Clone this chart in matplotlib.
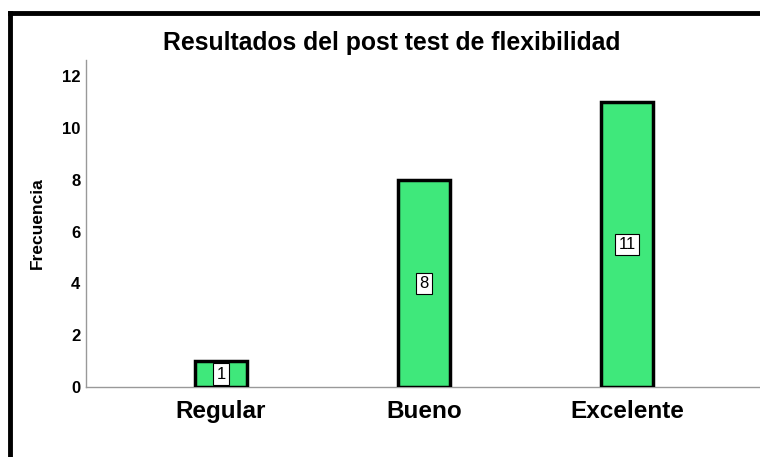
import matplotlib.pyplot as plt
from matplotlib.lines import Line2D

categories = ['Regular', 'Bueno', 'Excelente']
counts = [1, 8, 11]
yticks = [0, 2, 4, 6, 8, 10, 12]

plt.rcParams['font.family'] = ['Liberation Sans', 'DejaVu Sans']

fig = plt.figure(figsize=(7.6, 4.57), dpi=100)
ax = fig.add_axes([0.113, 0.153, 0.893, 0.716])

x = list(range(len(categories)))
bars = ax.bar(x, counts, width=0.256, color='#3fe87b', edgecolor='black', linewidth=2.5, zorder=3)

# value labels in the middle of each bar
for xi, c in zip(x, counts):
    ax.text(xi, c / 2, str(c), ha='center', va='center', fontsize=12, zorder=4,
            bbox=dict(boxstyle='square,pad=0.2', facecolor='white', edgecolor='black', linewidth=0.8))

ax.set_xlim(-0.665, 2.678)
ax.set_ylim(0, 12.62)
ax.set_xticks(x)
ax.set_xticklabels(categories, fontsize=17.5, fontweight='bold')
ax.set_yticks(yticks)
ax.set_yticklabels([str(t) for t in yticks], fontsize=12, fontweight='bold')
ax.tick_params(axis='y', length=0, pad=4)
ax.tick_params(axis='x', length=0, pad=9)

for side in ['top', 'right']:
    ax.spines[side].set_visible(False)
for side in ['left', 'bottom']:
    ax.spines[side].set_color('#999999')
    ax.spines[side].set_linewidth(1)

ax.set_ylabel('Frecuencia', fontsize=12.5, fontweight='bold', labelpad=12)
fig.text(0.515, 0.907, 'Resultados del post test de flexibilidad', ha='center', va='center',
         fontsize=17.8, fontweight='bold')

# black frame on top and left
fig.add_artist(Line2D([10 / 760, 1], [1 - 13 / 457, 1 - 13 / 457], color='black', linewidth=3.5,
                      transform=fig.transFigure))
fig.add_artist(Line2D([10 / 760, 10 / 760], [1 - 13 / 457, 0], color='black', linewidth=3.5,
                      transform=fig.transFigure))

fig.savefig('out.png', dpi=100)
